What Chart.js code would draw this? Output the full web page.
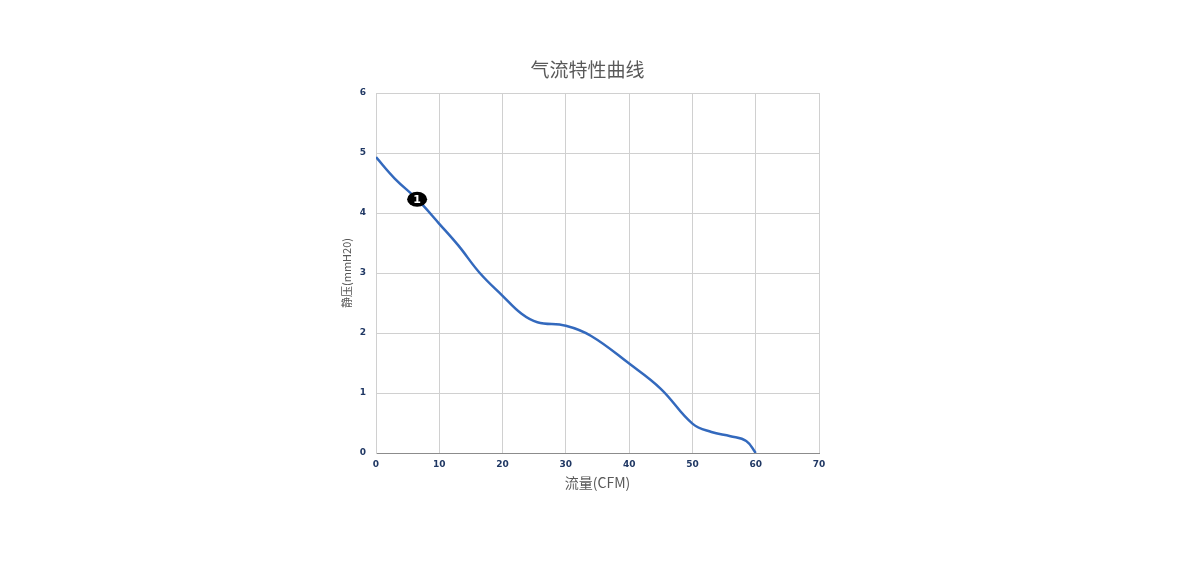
<!DOCTYPE html>
<html>
<head>
<meta charset="utf-8">
<script src="https://cdn.jsdelivr.net/npm/chart.js@4/dist/chart.umd.min.js"></script>
<style>
  html, body { margin: 0; padding: 0; background: #fff; }
  #wrap { width: 1200px; height: 563px; }
</style>
</head>
<body>
<div id="wrap"><canvas id="c"></canvas></div>
<script>
// 曲线数据（流量 CFM / 静压 mmH20）
const flowCfm = [0, 3, 6.5, 10, 13, 16.4, 20, 23, 25.5, 30, 34, 40, 45, 50, 53, 56, 58.5, 60]
const pressure = [4.93, 4.57, 4.23, 3.82, 3.46, 3.0, 2.62, 2.32, 2.18, 2.12, 1.95, 1.49, 1.07, 0.49, 0.35, 0.28, 0.2, 0]

// 标记点
const markerX = [6.5]
const markerY = [4.23]
const markerText = ["1"]

const titleText = "气流特性曲线"
const xTitle = "流量(CFM)"
const yTitle = "静压(mmH20)"

const cjk = "'Noto Sans CJK SC', 'Noto Sans', sans-serif"

// 标题（略偏左于绘图区中心）
const titlePlugin = {
  id: "topTitle",
  afterDraw(chart) {
    const ctx = chart.ctx
    const a = chart.chartArea
    ctx.save()
    ctx.fillStyle = "#595959"
    ctx.font = "19px " + cjk
    ctx.textAlign = "center"
    ctx.textBaseline = "middle"
    ctx.fillText(titleText, (a.left + a.right) / 2 - 10, a.top - 23)
    ctx.restore()
  }
}

// 黑色椭圆标记 + 白字
const markerPlugin = {
  id: "marker",
  afterDatasetsDraw(chart) {
    const ctx = chart.ctx
    const xs = chart.scales.x, ys = chart.scales.y
    markerX.forEach((mx, i) => {
      const px = xs.getPixelForValue(mx)
      const py = ys.getPixelForValue(markerY[i])
      ctx.save()
      ctx.beginPath()
      ctx.ellipse(px, py, 10, 7.5, 0, 0, Math.PI * 2)
      ctx.fillStyle = "#000"
      ctx.fill()
      ctx.fillStyle = "#fff"
      ctx.font = "bold 11px 'DejaVu Sans', sans-serif"
      ctx.textAlign = "center"
      ctx.textBaseline = "middle"
      ctx.fillText(markerText[i], px, py + 0.5)
      ctx.restore()
    })
  }
}

new Chart(document.getElementById("c"), {
  type: "scatter",
  data: {
    datasets: [{
      data: flowCfm.map((x, i) => ({ x: x, y: pressure[i] })),
      showLine: true,
      borderColor: "#3369bd",
      borderWidth: 2.5,
      pointRadius: 0,
      tension: 0.4
    }]
  },
  options: {
    responsive: true,
    maintainAspectRatio: false,
    animation: false,
    layout: { padding: { left: 336, right: 381, top: 93, bottom: 68 } },
    plugins: {
      legend: { display: false },
      tooltip: { enabled: false },
      title: { display: false }
    },
    scales: {
      x: {
        min: 0, max: 70,
        ticks: { stepSize: 10, color: "#203864", padding: 6, font: { family: "'DejaVu Sans', sans-serif", size: 9, weight: "bold" } },
        grid: { color: "#d0d0d0", drawTicks: false },
        border: { color: "#8c8c8c", width: 1 },
        title: { display: true, text: xTitle, color: "#595959", padding: { top: 0 }, font: { family: cjk, size: 14 } },
        afterFit(s) { s.height = 42 }
      },
      y: {
        min: 0, max: 6,
        ticks: { stepSize: 1, color: "#203864", padding: 10, font: { family: "'DejaVu Sans', sans-serif", size: 9, weight: "bold" } },
        grid: { color: "#d0d0d0", drawTicks: false },
        border: { color: "#d0d0d0", width: 1 },
        title: { display: true, text: yTitle, color: "#595959", padding: { bottom: 0 }, font: { family: cjk, size: 11 } },
        afterFit(s) { s.width = 40 }
      }
    }
  },
  plugins: [markerPlugin, titlePlugin]
})
</script>
</body>
</html>
